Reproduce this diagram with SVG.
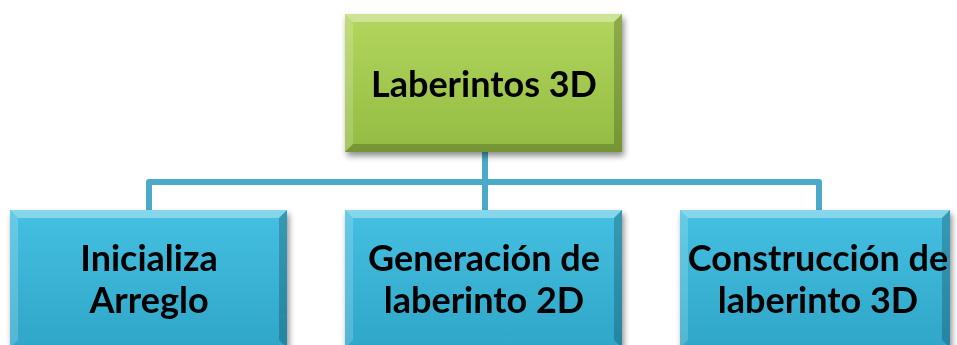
<svg xmlns="http://www.w3.org/2000/svg" width="957" height="345" viewBox="0 0 957 345">
<defs>
<linearGradient id="gG" x1="0" y1="0" x2="0" y2="1"><stop offset="0" stop-color="#b3d65e"/><stop offset="1" stop-color="#93bb42"/></linearGradient>
<linearGradient id="gB" x1="0" y1="0" x2="0" y2="1"><stop offset="0" stop-color="#45c0e2"/><stop offset="1" stop-color="#2fa6c8"/></linearGradient>
<filter id="sh" x="-10%" y="-10%" width="125%" height="130%"><feGaussianBlur in="SourceAlpha" stdDeviation="3"/><feOffset dx="2" dy="4"/><feComponentTransfer><feFuncA type="linear" slope="0.45"/></feComponentTransfer><feMerge><feMergeNode/><feMergeNode in="SourceGraphic"/></feMerge></filter>
</defs>
<style>
.t{font-family:Lato,"Open Sans","Liberation Sans",sans-serif;font-weight:bold;font-size:36px;fill:#000;text-anchor:middle}
.c{fill:none;stroke:#4aaac8;stroke-width:6;stroke-linejoin:round}
.hl{fill:#ffffff;opacity:0.35}
.hm{fill:#ffffff;opacity:0.18}
.dk{fill:#000000;opacity:0.2}
</style>
<g id="connectors">
<path class="c" d="M485 152 V182 M149 210 V182 H819 V210 M485 182 V210"/>
</g>
<g id="root" filter="url(#sh)">
<rect x="345" y="14" width="277" height="138" fill="url(#gG)"/>
<polygon class="hl" points="345,14 622,14 614,22 353,22"/>
<polygon class="hm" points="345,14 353,22 353,144 345,152"/>
<polygon class="dk" points="622,14 622,152 614,144 614,22"/>
<polygon class="dk" points="345,152 622,152 614,144 353,144"/>
<text class="t" x="484" y="97">Laberintos 3D</text>
</g>
<g id="n1" filter="url(#sh)">
<rect x="10" y="210" width="277" height="138" fill="url(#gB)"/>
<polygon class="hl" points="10,210 287,210 279,218 18,218"/>
<polygon class="hm" points="10,210 18,218 18,340 10,348"/>
<polygon class="dk" points="287,210 287,348 279,340 279,218"/>
<text class="t" x="149" y="271">Inicializa</text>
<text class="t" x="149" y="313">Arreglo</text>
</g>
<g id="n2" filter="url(#sh)">
<rect x="345" y="210" width="277" height="138" fill="url(#gB)"/>
<polygon class="hl" points="345,210 622,210 614,218 353,218"/>
<polygon class="hm" points="345,210 353,218 353,340 345,348"/>
<polygon class="dk" points="622,210 622,348 614,340 614,218"/>
<text class="t" x="484" y="271">Generación de</text>
<text class="t" x="484" y="313">laberinto 2D</text>
</g>
<g id="n3" filter="url(#sh)">
<rect x="680" y="210" width="270" height="138" fill="url(#gB)"/>
<polygon class="hl" points="680,210 950,210 942,218 688,218"/>
<polygon class="hm" points="680,210 688,218 688,340 680,348"/>
<polygon class="dk" points="950,210 950,348 942,340 942,218"/>
<text class="t" x="818" y="271">Construcción de</text>
<text class="t" x="818" y="313">laberinto 3D</text>
</g>
</svg>
